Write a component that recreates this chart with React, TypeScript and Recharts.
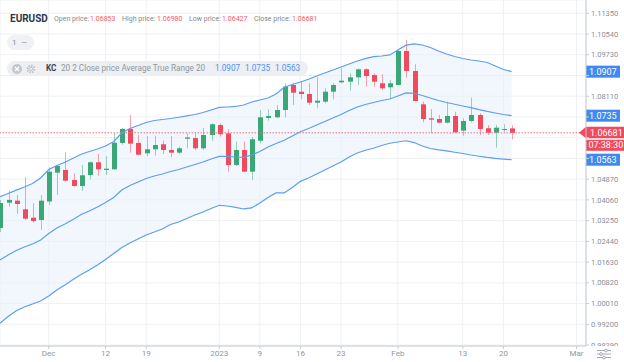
import React from 'react';
import { ComposedChart, Bar, Line, Area, XAxis, YAxis, CartesianGrid, ReferenceLine } from 'recharts';

// EURUSD daily candles, 23 Nov 2022 .. 21 Feb 2023
const dates = [
  '2022-11-23', '2022-11-24', '2022-11-25', '2022-11-28', '2022-11-29', '2022-11-30',
  '2022-12-01', '2022-12-02', '2022-12-05', '2022-12-06', '2022-12-07', '2022-12-08', '2022-12-09',
  '2022-12-12', '2022-12-13', '2022-12-14', '2022-12-15', '2022-12-16', '2022-12-19', '2022-12-20',
  '2022-12-21', '2022-12-22', '2022-12-23', '2022-12-27', '2022-12-28', '2022-12-29', '2022-12-30',
  '2023-01-02', '2023-01-03', '2023-01-04', '2023-01-05', '2023-01-06', '2023-01-09', '2023-01-10',
  '2023-01-11', '2023-01-12', '2023-01-13', '2023-01-16', '2023-01-17', '2023-01-18', '2023-01-19',
  '2023-01-20', '2023-01-23', '2023-01-24', '2023-01-25', '2023-01-26', '2023-01-27', '2023-01-30',
  '2023-01-31', '2023-02-01', '2023-02-02', '2023-02-03', '2023-02-06', '2023-02-07', '2023-02-08',
  '2023-02-09', '2023-02-10', '2023-02-13', '2023-02-14', '2023-02-15', '2023-02-16', '2023-02-17',
  '2023-02-20', '2023-02-21',
];

const open = [
  1.02963, 1.03952, 1.0403, 1.03694, 1.03366, 1.03276, 1.03998, 1.05123, 1.05229, 1.04838,
  1.04604, 1.05034, 1.0553, 1.05229, 1.05256, 1.06285, 1.06832, 1.06285, 1.05881, 1.06037,
  1.06233, 1.0601, 1.05905, 1.06448, 1.06475, 1.06076, 1.06597, 1.06987, 1.06662, 1.05424,
  1.0601, 1.05162, 1.06373, 1.0726, 1.07287, 1.07572, 1.08549, 1.08287, 1.08197, 1.07858,
  1.07897, 1.08287, 1.08654, 1.08678, 1.0885, 1.09162, 1.0894, 1.08615, 1.08459, 1.08549,
  1.09877, 1.09096, 1.07795, 1.07248, 1.07221, 1.07076, 1.07338, 1.06764, 1.07143, 1.07377,
  1.06858, 1.06686, 1.06791, 1.06853,
];
const high = [
  1.0406, 1.0442, 1.0425, 1.04944, 1.03928, 1.0425, 1.05334, 1.05424, 1.0592, 1.051,
  1.05424, 1.0556, 1.05854, 1.05776, 1.06662, 1.06871, 1.07377, 1.06597, 1.06557, 1.06557,
  1.06373, 1.06557, 1.06139, 1.06662, 1.06701, 1.06871, 1.07054, 1.07054, 1.06818, 1.06334,
  1.06334, 1.0652, 1.07572, 1.076, 1.07768, 1.08615, 1.08639, 1.08678, 1.08615, 1.0885,
  1.0842, 1.08615, 1.09201, 1.09006, 1.09201, 1.09201, 1.09006, 1.08967, 1.08744, 1.09916,
  1.10307, 1.09357, 1.07897, 1.07611, 1.07377, 1.07897, 1.07506, 1.07248, 1.08053, 1.07443,
  1.06987, 1.06987, 1.07014, 1.0698,
];
const low = [
  1.0281, 1.03795, 1.0351, 1.03276, 1.03171, 1.0289, 1.0385, 1.04252, 1.04772, 1.04577,
  1.04409, 1.04866, 1.05006, 1.05034, 1.0524, 1.0622, 1.05908, 1.0579, 1.0576, 1.0579,
  1.05853, 1.05724, 1.05853, 1.06076, 1.0601, 1.0601, 1.06373, 1.0653, 1.05162, 1.05385,
  1.0515, 1.04838, 1.06272, 1.07155, 1.07248, 1.07287, 1.07768, 1.0799, 1.07768, 1.0764,
  1.0784, 1.0799, 1.08615, 1.08326, 1.08549, 1.08483, 1.08483, 1.08354, 1.08002, 1.0853,
  1.08834, 1.0791, 1.07092, 1.06662, 1.07053, 1.07053, 1.06662, 1.06569, 1.07092, 1.06596,
  1.06596, 1.061, 1.06725, 1.06427,
];
const close = [
  1.0394, 1.0406, 1.039, 1.03327, 1.03237, 1.0403, 1.05162, 1.05385, 1.04811, 1.04604,
  1.05022, 1.0553, 1.05256, 1.0528, 1.06295, 1.06832, 1.06257, 1.05826, 1.06037, 1.06205,
  1.0601, 1.05905, 1.06076, 1.06502, 1.06076, 1.06597, 1.07015, 1.06624, 1.05424, 1.0601,
  1.05162, 1.06428, 1.07287, 1.07338, 1.07572, 1.08483, 1.08248, 1.08197, 1.07858, 1.07936,
  1.08287, 1.08549, 1.08717, 1.0885, 1.09162, 1.089, 1.08678, 1.0842, 1.08615, 1.09877,
  1.09096, 1.07924, 1.07221, 1.07194, 1.07076, 1.07338, 1.06701, 1.07143, 1.07377, 1.0683,
  1.06686, 1.06881, 1.0683, 1.06681,
];

// Keltner channel (20, 2, ATR 20)
const kcUpper = [
  1.04186, 1.04311, 1.0444, 1.04565, 1.04702, 1.04917, 1.05249, 1.05405, 1.0553, 1.05686,
  1.05843, 1.05952, 1.0605, 1.06167, 1.06343, 1.06675, 1.0685, 1.06968, 1.07085, 1.07163,
  1.07202, 1.07241, 1.07288, 1.07339, 1.07397, 1.07475, 1.07573, 1.07671, 1.0769, 1.0771,
  1.07768, 1.07886, 1.07964, 1.08042, 1.08198, 1.0846, 1.08569, 1.08667, 1.08772, 1.08901,
  1.09018, 1.09136, 1.09253, 1.0937, 1.09487, 1.09577, 1.09655, 1.09682, 1.09722, 1.09917,
  1.10104, 1.10151, 1.10112, 1.10015, 1.09878, 1.09761, 1.09663, 1.09585, 1.09526, 1.09487,
  1.09429, 1.09292, 1.09155, 1.0907,
];
const kcMid = [
  1.01714, 1.01909, 1.02085, 1.02222, 1.02339, 1.02495, 1.02749, 1.02964, 1.0312, 1.03296,
  1.03491, 1.03628, 1.03784, 1.0396, 1.04155, 1.04448, 1.04624, 1.04761, 1.04897, 1.04995,
  1.05073, 1.05171, 1.05249, 1.05347, 1.05444, 1.05542, 1.05659, 1.05757, 1.05757, 1.05737,
  1.05725, 1.05815, 1.05952, 1.06128, 1.06265, 1.0639, 1.06557, 1.06725, 1.0685, 1.06987,
  1.07124, 1.07261, 1.07397, 1.07554, 1.0769, 1.07788, 1.07866, 1.07944, 1.08003, 1.0812,
  1.08237, 1.08225, 1.0814, 1.08042, 1.07944, 1.07866, 1.07796, 1.07729, 1.07663, 1.07585,
  1.07515, 1.07456, 1.07397, 1.0735,
];
const kcLower = [
  0.99241, 0.99507, 0.99729, 0.99878, 0.99995, 1.00112, 1.00307, 1.00542, 1.00737, 1.00952,
  1.01147, 1.01323, 1.01518, 1.01733, 1.01968, 1.02202, 1.02378, 1.02534, 1.0269, 1.02807,
  1.02925, 1.031, 1.03198, 1.03335, 1.03472, 1.03589, 1.03725, 1.0385, 1.03823, 1.03765,
  1.03706, 1.03745, 1.0394, 1.04155, 1.04331, 1.04331, 1.04546, 1.04784, 1.04917, 1.05073,
  1.05229, 1.05386, 1.05542, 1.05737, 1.05893, 1.05999, 1.06077, 1.06186, 1.06272, 1.06323,
  1.0637, 1.063, 1.06167, 1.06069, 1.06011, 1.05972, 1.05921, 1.05874, 1.05815, 1.05765,
  1.05718, 1.05679, 1.05651, 1.0563,
];

const tickIndex = [6, 13, 18, 27, 32, 37, 42, 49, 57, 62, 71];
const tickLabels = ['Dec', '12', '19', '2023', '9', '16', '23', 'Feb', '13', '20', 'Mar'];
const priceTicks = [
  1.1135, 1.1054, 1.0973, 1.0892, 1.0811, 1.073, 1.0649, 1.0568, 1.0487,
  1.0406, 1.0325, 1.0244, 1.0163, 1.0082, 1.0001, 0.992, 0.9839,
];
// tick labels sitting under the value badges on the price axis
const coveredTicks = [1.0892, 1.073, 1.0649, 1.0568];

const lastPrice = 1.06681;
const countdown = '07:38:30';

const GREEN = '#3aa876';
const RED = '#f04a5d';
const BLUE = '#5c9ef0';
const FONT = 'Roboto, "Noto Sans", sans-serif';
const PLOT_BOTTOM = 346;

const rows = dates.map((d, i) => ({
  i,
  date: d,
  o: open[i],
  h: high[i],
  l: low[i],
  c: close[i],
  range: [low[i], high[i]],
  band: [kcLower[i], kcUpper[i]],
  upper: kcUpper[i],
  mid: kcMid[i],
  lower: kcLower[i],
}));

const Candle = (props: any) => {
  const { x, y, width, height, payload } = props;
  if (!payload || x == null) return null;
  const top = Math.min(y, y + height);
  const full = Math.abs(height);
  const span = payload.h - payload.l;
  const k = span > 0 ? full / span : 0;
  const yOf = (v: number) => top + (payload.h - v) * k;
  const up = payload.c >= payload.o;
  const color = up ? GREEN : RED;
  const cx = Math.round(x + width / 2) + 0.5;
  const bodyTop = yOf(Math.max(payload.o, payload.c));
  const bodyH = Math.max(1, Math.abs(yOf(payload.o) - yOf(payload.c)));
  return (
    <g>
      <line x1={cx} x2={cx} y1={top} y2={top + full} stroke={color} strokeOpacity={0.5} strokeWidth={1} />
      <rect x={cx - 2.5} y={bodyTop} width={5} height={bodyH} fill={color} />
    </g>
  );
};

const PriceTick = (props: any) => {
  const { x, y, payload } = props;
  if (coveredTicks.includes(payload.value)) return null;
  const h = Math.max(0, Math.min(12, PLOT_BOTTOM - (y - 6)));
  return (
    <svg x={x} y={y - 6} width={40} height={h} overflow="hidden">
      <text x={0} y={6} dy="0.35em" fontSize={7.5} fill="#8a9099" fontFamily={FONT}>
        {Number(payload.value).toFixed(5)}
      </text>
    </svg>
  );
};

const blueBadge = (text: string) => (props: any) => {
  const vb = props.viewBox || {};
  const ax = vb.x + vb.width;
  const cy = vb.y;
  return (
    <g>
      <rect x={ax} y={cy - 6} width={34} height={12} fill="#3d8af0" />
      <text x={ax + 3} y={cy} dy="0.35em" fontSize={9} fill="#fff" fontFamily={FONT}>{text}</text>
    </g>
  );
};

const lastBadge = (props: any) => {
  const vb = props.viewBox || {};
  const ax = vb.x + vb.width;
  const cy = vb.y;
  return (
    <g>
      <polygon points={`${ax - 7},${cy} ${ax},${cy - 6} ${ax + 38},${cy - 6} ${ax + 38},${cy + 5.5} ${ax},${cy + 5.5}`} fill={RED} />
      <text x={ax + 4} y={cy} dy="0.35em" fontSize={9} fill="#fff" fontFamily={FONT}>{lastPrice.toFixed(5)}</text>
      <rect x={ax} y={cy + 7} width={38} height={11} fill={RED} />
      <text x={ax + 2.5} y={cy + 12.5} dy="0.35em" fontSize={9} fill="#fff" fontFamily={FONT}>{countdown}</text>
    </g>
  );
};

const hdrLabel: React.CSSProperties = { position: 'absolute', top: 16, fontSize: 7, lineHeight: '7px', color: '#7f8791', whiteSpace: 'nowrap' };
const hdrValue: React.CSSProperties = { ...hdrLabel, color: '#f25c6a' };

export default function App() {
  return (
    <div style={{ position: 'absolute', left: 0, top: 0, width: 624, height: 362, background: '#fff', fontFamily: FONT, overflow: 'hidden' }}>
      <ComposedChart width={624} height={362} data={rows} margin={{ top: 0, right: 0, bottom: 0, left: 0 }}>
        <CartesianGrid stroke="#eef1f4" />
        <XAxis
          type="number"
          dataKey="i"
          domain={[0, 72.17]}
          allowDataOverflow
          ticks={tickIndex}
          interval={0}
          tickFormatter={(v: number) => tickLabels[tickIndex.indexOf(v)] ?? ''}
          height={16}
          tickSize={3}
          tickMargin={1}
          axisLine={{ stroke: '#c6cbd2' }}
          tickLine={{ stroke: '#c6cbd2' }}
          tick={{ fontSize: 8, fill: '#8f96a0', fontFamily: FONT }}
        />
        <YAxis
          orientation="right"
          type="number"
          domain={[0.98353, 1.11869]}
          allowDataOverflow
          ticks={priceTicks}
          interval={0}
          width={38}
          tickSize={3}
          tickMargin={2}
          axisLine={{ stroke: '#c6cbd2' }}
          tickLine={{ stroke: '#c6cbd2' }}
          tick={<PriceTick />}
        />
        <Area dataKey="band" type="linear" stroke="none" fill="#e6f0fc" fillOpacity={0.55} dot={false} activeDot={false} isAnimationActive={false} />
        <Line dataKey="upper" type="linear" stroke={BLUE} strokeWidth={1.2} dot={false} activeDot={false} isAnimationActive={false} />
        <Line dataKey="mid" type="linear" stroke={BLUE} strokeWidth={1.2} dot={false} activeDot={false} isAnimationActive={false} />
        <Line dataKey="lower" type="linear" stroke={BLUE} strokeWidth={1.2} dot={false} activeDot={false} isAnimationActive={false} />
        <Bar dataKey="range" barSize={5} isAnimationActive={false} activeBar={false} shape={(p: any) => <Candle {...p} />} />
        <ReferenceLine y={lastPrice} stroke="#f0707c" strokeDasharray="1.5 1.5" strokeWidth={1} label={lastBadge} />
        <ReferenceLine y={kcUpper[kcUpper.length - 1]} stroke="none" strokeOpacity={0} label={blueBadge('1.0907')} />
        <ReferenceLine y={kcMid[kcMid.length - 1]} stroke="none" strokeOpacity={0} label={blueBadge('1.0735')} />
        <ReferenceLine y={kcLower[kcLower.length - 1]} stroke="none" strokeOpacity={0} label={blueBadge('1.0563')} />
      </ComposedChart>

      {/* header */}
      <div style={{ position: 'absolute', left: 10, top: 14, fontSize: 10, lineHeight: '10px', fontWeight: 700, color: '#2b3648' }}>EURUSD</div>
      <span style={{ ...hdrLabel, left: 54 }}>Open price:</span>
      <span style={{ ...hdrValue, left: 90 }}>1.06853</span>
      <span style={{ ...hdrLabel, left: 122 }}>High price:</span>
      <span style={{ ...hdrValue, left: 157 }}>1.06980</span>
      <span style={{ ...hdrLabel, left: 189 }}>Low price:</span>
      <span style={{ ...hdrValue, left: 222 }}>1.06427</span>
      <span style={{ ...hdrLabel, left: 254 }}>Close price:</span>
      <span style={{ ...hdrValue, left: 292 }}>1.06681</span>

      <div style={{ position: 'absolute', left: 7, top: 35, width: 27, height: 15, borderRadius: 8, background: '#eff1f4', fontSize: 8, lineHeight: '15px', color: '#8a909a' }}>
        <span style={{ position: 'absolute', left: 5 }}>1</span>
        <span style={{ position: 'absolute', left: 14 }}>—</span>
      </div>

      <div style={{ position: 'absolute', left: 7, top: 61, width: 301, height: 15, borderRadius: 8, background: 'rgba(236,238,241,0.92)', fontSize: 8.2, lineHeight: '15px', whiteSpace: 'nowrap' }}>
        <svg style={{ position: 'absolute', left: 5, top: 2.5 }} width={10} height={10}>
          <circle cx={5} cy={5} r={5} fill="#c3c7cd" />
          <path d="M3 3 L7 7 M7 3 L3 7" stroke="#fff" strokeWidth={1.2} />
        </svg>
        <svg style={{ position: 'absolute', left: 19, top: 2.5 }} width={10} height={10}>
          <circle cx={5} cy={5} r={3.4} fill="none" stroke="#c3c7cd" strokeWidth={2.2} strokeDasharray="1.6 1" />
          <circle cx={5} cy={5} r={1.6} fill="none" stroke="#c3c7cd" strokeWidth={1} />
        </svg>
        <span style={{ position: 'absolute', left: 39, fontWeight: 700, color: '#3a4556' }}>KC</span>
        <span style={{ position: 'absolute', left: 54, color: '#9097a1' }}>20 2 Close price Average True Range 20</span>
        <span style={{ position: 'absolute', left: 208, color: '#4f8ff0' }}>1.0907</span>
        <span style={{ position: 'absolute', left: 238, color: '#4f8ff0' }}>1.0735</span>
        <span style={{ position: 'absolute', left: 268, color: '#4f8ff0' }}>1.0563</span>
      </div>

      {/* settings icon, bottom right */}
      <svg style={{ position: 'absolute', left: 596, top: 348 }} width={16} height={12}>
        <path d="M1 2.5 H15 M1 6 H15 M1 9.5 H15" stroke="#9aa1ab" strokeWidth={0.9} />
        <circle cx={10} cy={2.5} r={1.4} fill="#fff" stroke="#9aa1ab" strokeWidth={0.9} />
        <circle cx={5} cy={6} r={1.4} fill="#fff" stroke="#9aa1ab" strokeWidth={0.9} />
        <circle cx={8} cy={9.5} r={1.4} fill="#fff" stroke="#9aa1ab" strokeWidth={0.9} />
      </svg>
    </div>
  );
}
